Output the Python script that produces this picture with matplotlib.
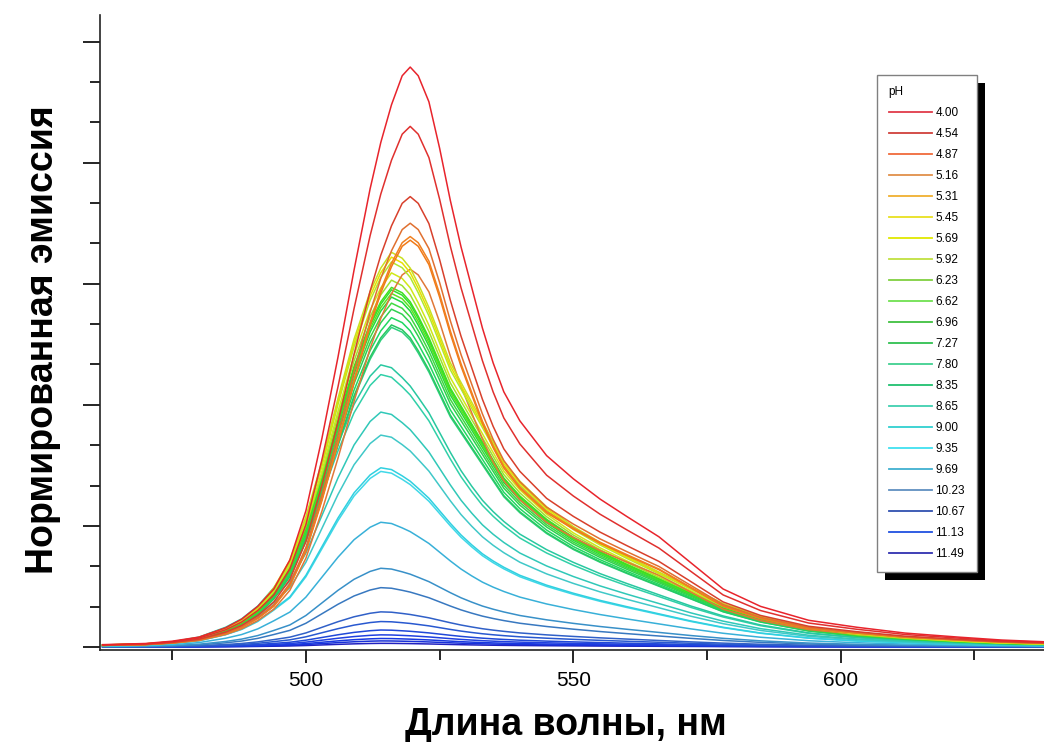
import matplotlib
matplotlib.use("Agg")
import matplotlib.pyplot as plt
from matplotlib.lines import Line2D
from matplotlib.patches import Rectangle
from matplotlib.ticker import MultipleLocator, NullFormatter
import numpy as np

plt.rcParams['font.family'] = ['Liberation Sans', 'DejaVu Sans']

# wavelength grid, nm
wavelength = [462, 470, 475, 480, 485, 488, 491, 494, 497, 500, 503, 506, 509, 512, 514,
              516, 518, 519.5, 521, 523, 525, 527, 529, 531, 533, 535, 537, 540, 545,
              550, 555, 560, 566, 572, 578, 585, 594, 603, 612, 622, 630, 638]

# normalised band shapes (acid / neutral / basic forms)
shape_red = [.004, .006, .010, .017, .033, .048, .070, .100, .150, .235,
             .36, .50, .65, .79, .87, .935, .985, 1.00, .985, .94,
             .86, .77, .69, .62, .55, .49, .44, .39, .33, .29,
             .255, .225, .19, .145, .10, .07, .046, .034, .024, .017,
             .012, .009]
shape_green = [.005, .008, .013, .024, .047, .068, .10, .15, .22, .33,
               .47, .63, .78, .90, .96, 1.00, .985, .96, .92, .86,
               .79, .72, .67, .62, .57, .52, .47, .42, .355, .305,
               .265, .23, .19, .15, .11, .078, .05, .034, .024, .016,
               .011, .008]
shape_blue = [.006, .01, .018, .035, .07, .10, .145, .21, .28, .40,
              .56, .72, .86, .96, 1.00, .99, .955, .925, .885, .83,
              .76, .69, .625, .57, .52, .48, .445, .40, .345, .30,
              .26, .225, .185, .145, .11, .078, .05, .034, .024, .016,
              .011, .008]

# peak height of every spectrum and which band shape it follows
peak_height = [4.79, 4.30, 3.72, 3.50, 3.39, 3.36, 3.26, 3.22, 3.18, 3.12, 3.09, 3.03,
               2.97, 2.95, 2.92, 2.89, 2.84, 2.79, 2.72, 2.66, 2.64, 2.33, 2.25, 1.94,
               1.75, 1.48, 1.45, 1.03, 0.65, 0.49, 0.29, 0.21, 0.14, 0.10, 0.07, 0.05, 0.03]
band = ['r', 'r', 'r', 'r', 'r', 'r', 'g', 'g', 'g', 'r', 'g', 'g', 'g', 'g', 'g', 'g',
        'g', 'g', 'g', 'g', 'g', 'b', 'b', 'b', 'b', 'b', 'b', 'b', 'b', 'b', 'b', 'b',
        'b', 'b', 'b', 'b', 'b']
curve_colors = ['#e8242c', '#e0302e', '#d8402c', '#e07030', '#f08020', '#f07a18',
                '#c8e020', '#e8e000', '#b0e830', '#e07838', '#d0e818', '#a0e030',
                '#40e020', '#30e030', '#60e020', '#20d840', '#40d840', '#30d050',
                '#20d860', '#28c860', '#30d080', '#28c8a0', '#30d0a8', '#30c8b8',
                '#40c8c8', '#30d0e0', '#40d8e8', '#38b0d8', '#3890c8', '#3878c0',
                '#3060c8', '#2858d0', '#2048d8', '#2040e0', '#1838e0', '#1830d8', '#2020c0']

ph_values = ['4.00', '4.54', '4.87', '5.16', '5.31', '5.45', '5.69', '5.92', '6.23', '6.62',
             '6.96', '7.27', '7.80', '8.35', '8.65', '9.00', '9.35', '9.69', '10.23',
             '10.67', '11.13', '11.49']
ph_colors = ['#e03a4a', '#d0403a', '#f06a3a', '#e0904a', '#f0b030', '#e8e020', '#e0e800',
             '#c0e040', '#80d040', '#70e050', '#40c040', '#30c050', '#40d090', '#20c070',
             '#40d0b0', '#30d0d0', '#40e0f0', '#40b0d0', '#6090c0', '#3050b0', '#2050e0',
             '#3030b0']

shapes = {'r': np.array(shape_red), 'g': np.array(shape_green), 'b': np.array(shape_blue)}

fig = plt.figure(figsize=(10.44, 7.42), dpi=100)
ax = fig.add_axes([100 / 1044, 1 - 650 / 742, 944 / 1044, 635 / 742])

# draw low curves first so the bright ones stay on top
for h, b, c in reversed(list(zip(peak_height, band, curve_colors))):
    ax.plot(wavelength, shapes[b] * h, color=c, lw=1.1)

ax.set_xlim(461.5, 638)
ax.set_ylim(-0.025, 5.22)

ax.spines['top'].set_visible(False)
ax.spines['right'].set_visible(False)
for s in ['left', 'bottom']:
    ax.spines[s].set_linewidth(1.2)
    ax.spines[s].set_color('#222222')

ax.xaxis.set_major_locator(MultipleLocator(50))
ax.xaxis.set_minor_locator(MultipleLocator(25))
ax.yaxis.set_major_locator(MultipleLocator(1))
ax.yaxis.set_minor_locator(MultipleLocator(1 / 3))
ax.yaxis.set_major_formatter(NullFormatter())
ax.tick_params(axis='x', which='major', length=9, width=1.2, pad=6, labelsize=15)
ax.tick_params(axis='x', which='minor', length=7, width=1.2)
ax.tick_params(axis='y', which='major', length=12, width=1.2)
ax.tick_params(axis='y', which='minor', length=7, width=1.2)

ax.set_xlabel('Длина волны, нм', fontsize=27, fontweight='bold')
ax.xaxis.set_label_coords(0.493, -0.09)
ax.set_ylabel('Нормированная эмиссия', fontsize=27, fontweight='bold')
ax.yaxis.set_label_coords(-0.041, 0.488)

handles = [Line2D([], [], color=c, lw=1.3) for c in ph_colors]
leg = ax.legend(handles, ph_values, title='pH', loc='upper left',
                bbox_to_anchor=(0.823, 0.906), borderaxespad=0, fontsize=8.5,
                title_fontsize=8.5, alignment='left', handlelength=3.7,
                handletextpad=0.25, labelspacing=0.76, borderpad=1.0,
                fancybox=False, framealpha=1, edgecolor='#808080')
leg.get_frame().set_linewidth(1.0)

# solid black drop shadow behind the legend box
fig.canvas.draw()
bb = leg.get_window_extent().transformed(fig.transFigure.inverted())
dx, dy = 8 / 1044, 8 / 742
ax.add_patch(Rectangle((bb.x0 + dx, bb.y0 - dy), bb.width, bb.height,
                       transform=fig.transFigure, facecolor='black', edgecolor='none',
                       clip_on=False, zorder=4))

fig.savefig('out.png', dpi=100)
